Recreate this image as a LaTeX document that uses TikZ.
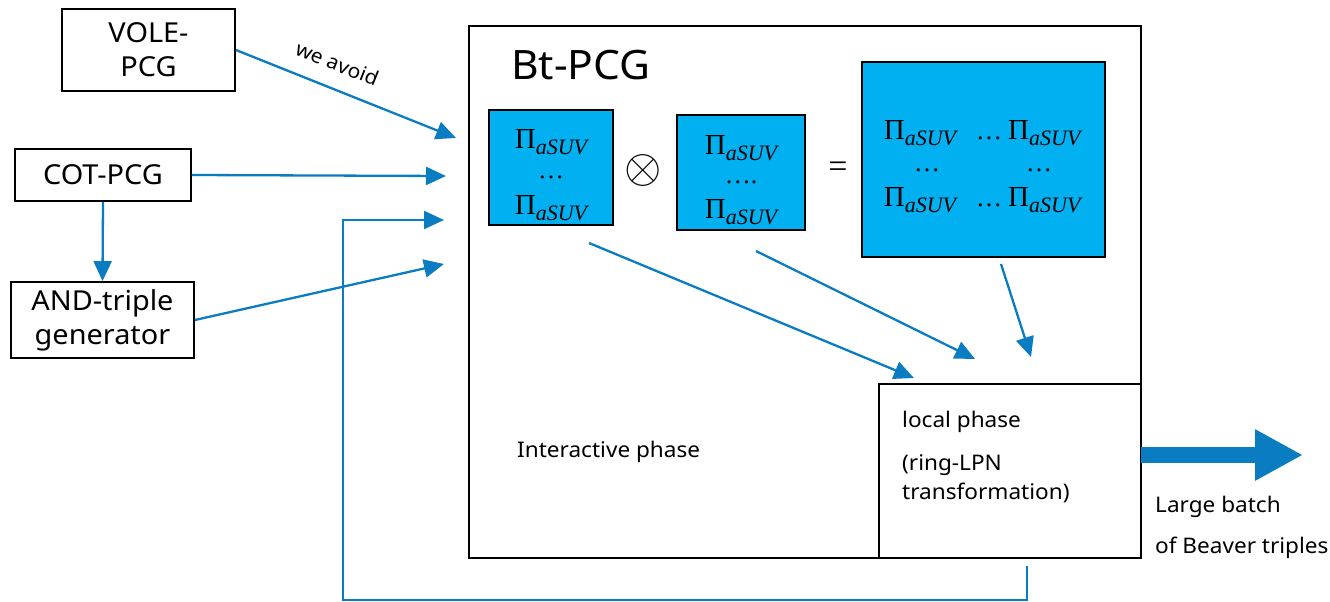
\documentclass[tikz,border=0pt]{standalone}
\usepackage{fontspec}
\setmainfont{Noto Sans}[FakeStretch=1.05]
\newfontfamily\cmb{Liberation Serif}
\usetikzlibrary{arrows.meta,calc}
\definecolor{arr}{HTML}{0A7CC1}
\definecolor{fillb}{HTML}{00B0F0}
\newcommand{\pia}{{\cmb\fontsize{29}{30}\selectfont Π\raisebox{-0.2em}{\fontsize{22}{22}\selectfont\itshape aSUV}}}
\newcommand{\dts}{{\cmb\fontsize{26}{30}\selectfont …}}
\begin{document}
\begin{tikzpicture}[x=1pt,y=-1pt,
  box/.style={draw=black, line width=1.8pt, inner sep=0pt, align=center, font=\fontsize{27.5}{34}\selectfont},
  bluebox/.style={draw=black, fill=fillb, line width=1.8pt, inner sep=0pt},
  mathtxt/.style={inner sep=0pt},
  smalltxt/.style={font=\fontsize{21.5}{26}\selectfont, inner sep=0pt, anchor=west},
  conn/.style={draw=arr, line width=2.3pt, -{Triangle[length=20pt,width=18pt]}},
]
\useasboundingbox (0,0) rectangle (1330,602);

% left boxes
\node[box, minimum width=173pt, minimum height=82pt] (vole) at (148.5,50) {VOLE-\\PCG};
\node[box, minimum width=176pt, minimum height=52pt] (cot) at (103,175) {COT-PCG};
\node[box, minimum width=183pt, minimum height=76pt] (and) at (102.5,320) {AND-triple\\generator};

% main box
\node[draw=black, line width=1.5pt, minimum width=672pt, minimum height=532pt, inner sep=0pt] (bt) at (805,292) {};
\node[font=\fontsize{40.5}{44}\selectfont, inner sep=0pt, anchor=base west] (title) at (511,79) {Bt-PCG};

% blue boxes
\node[bluebox, minimum width=124pt, minimum height=115pt] (b1) at (551,167.5) {};
\node[mathtxt] (b1a) at (551,142) {\pia};
\node[mathtxt] (b1b) at (551,177) {\dts};
\node[mathtxt] (b1c) at (551,208) {\pia};

\node[mathtxt] (otimes) at (643,170) {\scalebox{4.8}{$\otimes$}};

\node[bluebox, minimum width=128pt, minimum height=115pt] (b2) at (741,172.5) {};
\node[mathtxt] (b2a) at (741,148) {\pia};
\node[mathtxt] (b2b) at (741,182) {{\cmb\fontsize{26}{30}\selectfont ….}};
\node[mathtxt] (b2c) at (741,212) {\pia};

\node[mathtxt, font=\cmb\fontsize{34}{34}\selectfont] (eq) at (838,170) {=};

\node[bluebox, minimum width=243pt, minimum height=195pt] (big) at (983.5,159.5) {};
\node[mathtxt] (g11) at (920,133) {\pia};
\node[mathtxt, anchor=west] (g12) at (976,133) {\dts\hspace{6pt}\pia};
\node[mathtxt] (g21) at (927,170) {\dts};
\node[mathtxt] (g22) at (1039,170) {\dts};
\node[mathtxt] (g31) at (920,200) {\pia};
\node[mathtxt, anchor=west] (g32) at (976,200) {\dts\hspace{6pt}\pia};

% local phase region
\coordinate (lpbl) at (879,558);
\coordinate (lptl) at (879,384);
\coordinate (lptr) at (1141,384);
\draw[black, line width=1.2pt] (lpbl) -- (lptl) -- (lptr);
\node[smalltxt] (lp1) at (902,422) {local phase};
\node[smalltxt] (lp2) at (902,465) {(ring-LPN};
\node[smalltxt] (lp3) at (902,493) {transformation)};
\node[smalltxt] (inter) at (517,452) {Interactive phase};

% output
\coordinate (outs) at (1141,455);
\coordinate (oute) at (1303,455);
\draw[draw=arr, line width=16pt, -{Triangle[length=48pt,width=48pt]}] (outs) -- (oute);
\node[smalltxt] (lb1) at (1155,507) {Large batch};
\node[smalltxt] (lb2) at (1155,548) {of Beaver triples};

% inputs
\coordinate (in1) at (456,138);
\coordinate (in2) at (446,176);
\coordinate (in3) at (444,220);
\coordinate (in4) at (444,264);
\draw[conn] (vole.east |- 0,50) -- node[sloped, above=13pt, font=\fontsize{20}{24}\selectfont, pos=0.42] {we avoid} (in1);
\draw[conn] (cot.east) -- (in2);
\draw[conn] (cot.south) -- (and.north);
\draw[conn] (and.east |- 0,320) -- (in4);

% feedback
\coordinate (fbs) at (1027,566);
\coordinate (fbc) at (343,600);
\draw[conn] (fbs) |- (fbc) |- (in3);

% inner arrows
\coordinate (s1) at (589,243);
\coordinate (e1) at (914,378);
\coordinate (s2) at (756,251);
\coordinate (e2) at (975,359);
\coordinate (s3) at (1001,264);
\coordinate (e3) at (1031,357);
\draw[conn] (s1) -- (e1);
\draw[conn] (s2) -- (e2);
\draw[conn] (s3) -- (e3);
\end{tikzpicture}
\end{document}
